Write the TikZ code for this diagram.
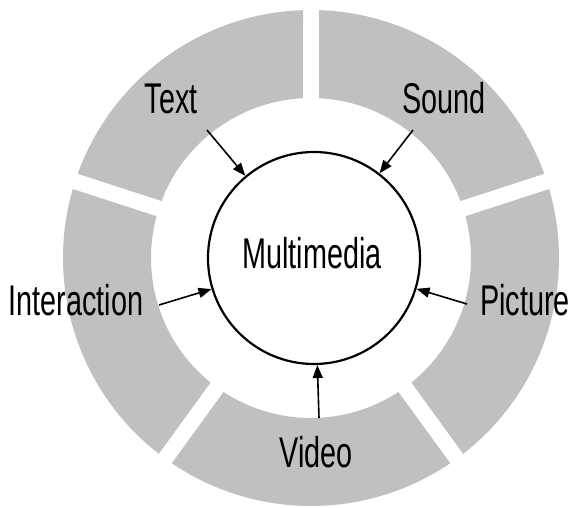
\documentclass[tikz,border=0pt]{standalone}
\usepackage{fontspec}
\setmainfont{Liberation Sans}[FakeStretch=0.67]
\usetikzlibrary{arrows.meta}
\definecolor{ringgray}{RGB}{192,192,192}

\begin{document}
\begin{tikzpicture}[x=1pt,y=1pt,
    feed/.style={line width=1.6pt,-{Triangle[length=13pt,width=10pt]}}]
      \useasboundingbox (-311,-249) rectangle (261,258);

      % ring of five parts, white gaps between them
      \foreach \a in {90,162,234,306,378}
        \fill[ringgray] ({\a+1.85}:248) arc[start angle={\a+1.85}, end angle={\a+70.15}, radius=248]
          -- ({\a+69.13}:160) arc[start angle={\a+69.13}, end angle={\a+2.87}, radius=160] -- cycle;

      \node[circle,draw,line width=2.2pt,minimum size=212pt,inner sep=0pt] (mm) at (3,0) {};

      \begin{scope}[every node/.style={anchor=base,font=\fontsize{43}{50}\selectfont}]
        \node (mmtext)      at (1,-10)    {Multimedia};
        \node (text)        at (-140,145) {Text};
        \node (sound)       at (133,145)  {Sound};
        \node (interaction) at (-235,-57) {Interaction};
        \node (picture)     at (214,-57)  {Picture};
        \node (video)       at (5,-209)   {Video};
      \end{scope}

      \coordinate (ta) at (-104,128);
      \coordinate (sa) at (102,128);
      \coordinate (ia) at (-152,-47);
      \coordinate (pa) at (156,-46);
      \coordinate (va) at (8,-160);

      \draw[feed] (ta) -- (mm);
      \draw[feed] (sa) -- (mm);
      \draw[feed] (ia) -- (mm);
      \draw[feed] (pa) -- (mm);
      \draw[feed] (va) -- (mm);

    \end{tikzpicture}
\end{document}
